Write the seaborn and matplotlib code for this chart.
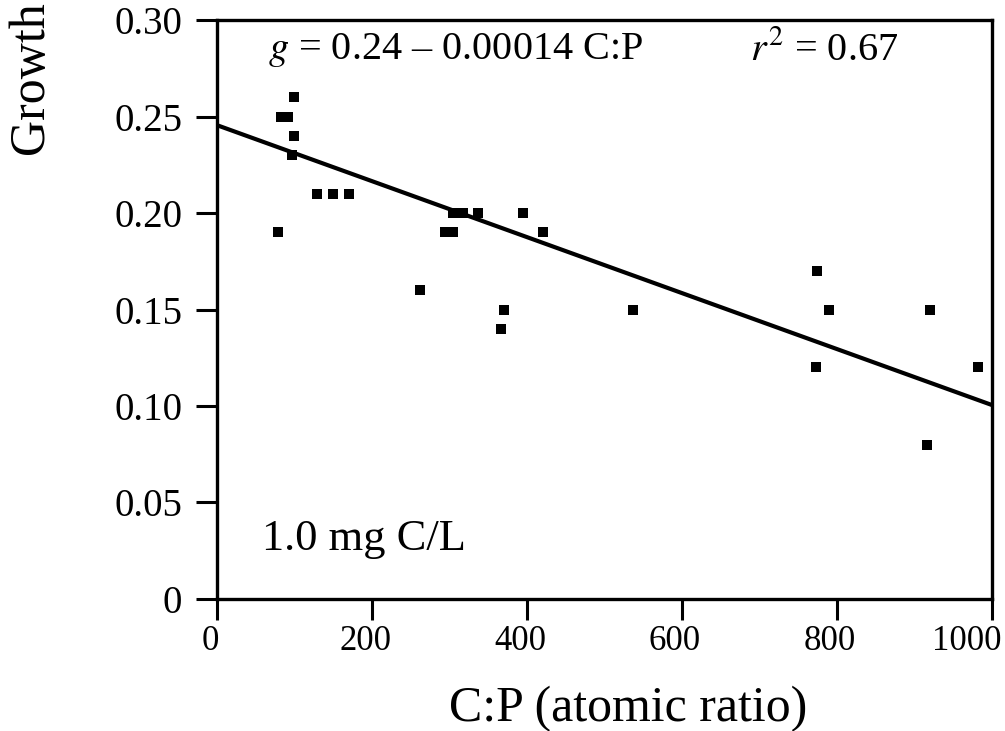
import matplotlib
matplotlib.use('Agg')
import matplotlib.pyplot as plt
import seaborn as sns
import pandas as pd
from matplotlib.ticker import FuncFormatter
from matplotlib.transforms import ScaledTranslation

# values
cp_ratio = [79, 83, 92, 97, 99, 99, 129, 150, 170, 262, 294, 305, 305, 317, 337,
            366, 370, 395, 421, 537, 773, 774, 790, 916, 920, 982]
growth = [0.19, 0.25, 0.25, 0.23, 0.24, 0.26, 0.21, 0.21, 0.21, 0.16, 0.19, 0.19, 0.20, 0.20, 0.20,
          0.14, 0.15, 0.20, 0.19, 0.15, 0.12, 0.17, 0.15, 0.08, 0.15, 0.12]

# regression line end points
fit_x = [0, 1000]
fit_y = [0.2455, 0.1005]

x_ticks = [0, 200, 400, 600, 800, 1000]
y_ticks = [0, 0.05, 0.10, 0.15, 0.20, 0.25, 0.30]

df = pd.DataFrame({'C:P': cp_ratio, 'Growth': growth})

sns.set_style('ticks')
plt.rcParams['font.family'] = ['Liberation Serif', 'DejaVu Serif']
plt.rcParams['mathtext.fontset'] = 'stix'
plt.rcParams['axes.unicode_minus'] = False
plt.rcParams['text.color'] = 'black'
plt.rcParams['axes.labelcolor'] = 'black'
plt.rcParams['xtick.color'] = 'black'
plt.rcParams['ytick.color'] = 'black'

fig = plt.figure(figsize=(10.05, 7.31), dpi=100)
ax = fig.add_axes([0.216, 0.1806, 0.771, 0.792])

sns.lineplot(x=fit_x, y=fit_y, color='black', linewidth=3.0, ax=ax)
sns.scatterplot(x='C:P', y='Growth', data=df, marker='s', s=45, color='black',
                linewidth=0, ax=ax, zorder=3)

ax.set_xlim(0, 1000)
ax.set_ylim(0, 0.30)
ax.set_xticks(x_ticks)
ax.set_yticks(y_ticks)
ax.yaxis.set_major_formatter(FuncFormatter(lambda v, p: '0' if v == 0 else '%.2f' % v))

for side in ['bottom', 'top', 'left', 'right']:
    ax.spines[side].set_linewidth(2.4)
    ax.spines[side].set_color('black')
ax.tick_params(axis='both', direction='out', length=15, width=2.2, color='black')
ax.tick_params(axis='y', labelsize=28, pad=10)
ax.tick_params(axis='x', labelsize=25, pad=4)

# x tick labels sit a little left of their ticks in the original
ticks = ax.xaxis.get_major_ticks()
for i, t in enumerate(ticks):
    dx = -5 if i < len(ticks) - 1 else -18
    t.label1.set_transform(t.label1.get_transform() + ScaledTranslation(dx / 72, 0, fig.dpi_scale_trans))

ax.set_xlabel('C:P (atomic ratio)', fontsize=36)
ax.xaxis.set_label_coords(0.53, -0.15)
ax.set_ylabel('Growth', fontsize=36)
ax.yaxis.set_label_coords(-0.21, 0.90)

ax.text(66, 0.2845, '$g$ = 0.24 – 0.00014 C:P', fontsize=29, ha='left', va='center')
ax.text(688, 0.2845, '$r^2$ = 0.67', fontsize=29, ha='left', va='center')
ax.text(58, 0.031, '1.0 mg C/L', fontsize=32, ha='left', va='center')

plt.savefig('out.png', dpi=100)
